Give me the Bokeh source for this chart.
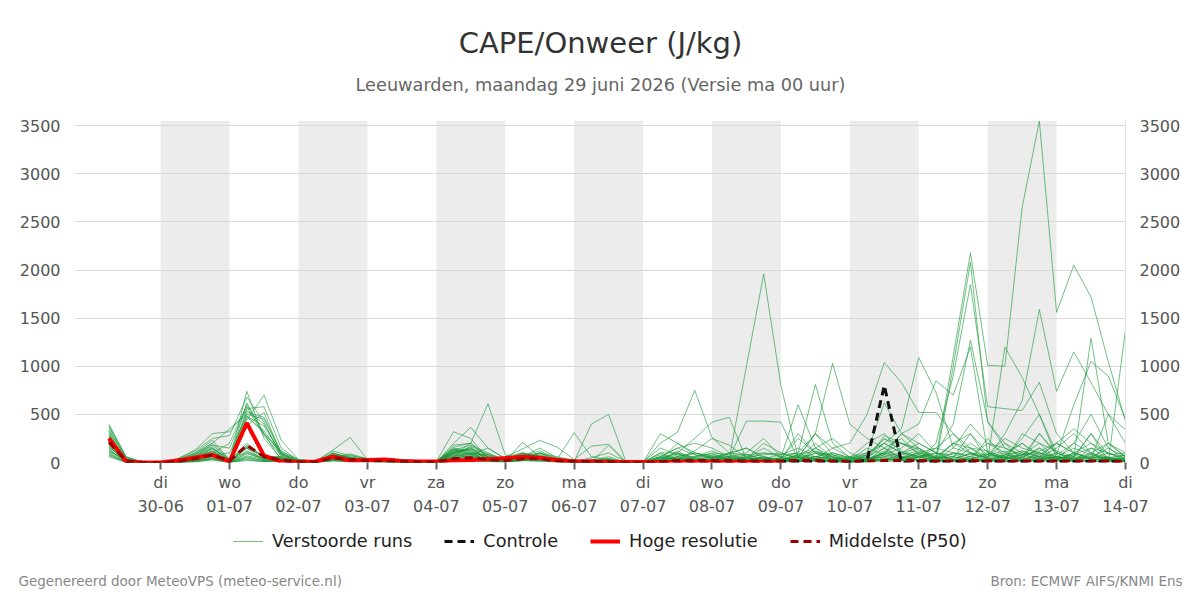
import pandas as pd
import numpy as np
from bokeh.plotting import figure
from bokeh.layouts import column
from bokeh.models import (Range1d, LinearAxis, FixedTicker, BoxAnnotation, Legend,
                          LegendItem, Label, ColumnDataSource)
from bokeh.embed import file_html
from bokeh.resources import INLINE

# ---------------- data ----------------
run_start = "2026-06-29 06:00"
n_steps = 60
step = "6h"
axis_origin = "2026-06-29 00:00"

tick_dates = ["30-06", "01-07", "02-07", "03-07", "04-07", "05-07", "06-07", "07-07",
              "08-07", "09-07", "10-07", "11-07", "12-07", "13-07", "14-07"]
tick_days = ["di", "wo", "do", "vr", "za", "zo", "ma", "di", "wo", "do", "vr", "za", "zo", "ma", "di"]
shaded_dates = ["2026-06-30", "2026-07-02", "2026-07-04", "2026-07-06", "2026-07-08",
                "2026-07-10", "2026-07-12"]
y_ticks = [0, 500, 1000, 1500, 2000, 2500, 3000, 3500]

# perturbed members: 29-06 06,12,18 | 4 per day 30-06 .. 13-07 | 14-07 00
m01 = [400,60,0, 0,10,60,150, 20,740,250,40, 5,10,60,30, 20,10,10,5, 10,150,120,40, 20,60,40,10, 5,10,20,5, 0,20,60,30, 10,5,20,40, 30,60,20,10, 20,30,60,40, 100,50,1100,2180, 1010,1000,2650,3550, 1560,2050,1720,1050, 430]
m02 = [350,30,0, 0,0,30,100, 10,560,580,150, 20,5,40,80, 30,15,5,0, 5,180,200,60, 30,40,80,20, 10,30,10,0, 5,60,150,80, 40,20,10,30, 20,80,150,30, 10,40,100,200, 150,0,1000,2080, 420,200,100,60, 30,200,100,50, 20]
m03 = [300,20,0, 0,20,80,200, 350,500,450,100, 10,5,20,40, 20,10,5,5, 10,100,160,30, 10,80,60,20, 0,10,5,0, 10,30,100,20, 10,40,30,10, 5,20,60,100, 50,30,20,60, 30,200,900,1850, 580,560,540,834, 300,100,200,50, 80]
m04 = [280,40,0, 0,5,40,90, 5,150,60,60, 0,0,100,50, 30,20,10,0, 0,120,80,150, 40,100,60,10, 20,10,0,0, 0,5,40,120, 250,180,50,20, 10,5,40,60, 0,80,250,120, 60,100,400,1270, 430,150,80,120, 200,350,200,100, 50]
m05 = [260,15,0, 0,30,100,230, 30,620,300,120, 30,10,80,40, 20,40,20,10, 5,90,140,60, 30,50,100,40, 10,0,5,10, 0,10,30,10, 40,90,150,60, 20,10,30,20, 40,20,120,60, 100,40,200,300, 30,1200,886,500, 50,10,100,200, 60]
m06 = [240,10,0, 0,0,20,60, 0,100,30,30, 0,10,130,260, 30,20,10,5, 10,60,100,20, 5,20,30,20, 10,5,180,0, 0,60,40,10, 20,10,80,100, 60,20,10,5, 0,20,150,50, 30,0,20,100, 50,300,640,1590, 740,1150,830,500, 340]
m07 = [230,25,0, 0,10,50,120, 15,380,520,80, 10,5,60,90, 40,30,10,10, 5,130,180,100, 20,30,50,30, 5,20,60,0, 10,0,20,50, 20,30,0,40, 80,100,30,10, 0,10,30,80, 120,50,60,200, 80,250,150,100, 40,60,1290,200, 100]
m08 = [220,5,0, 0,40,120,250, 280,680,420,50, 20,0,30,20, 10,40,30,10, 0,50,60,20, 10,210,60,20, 0,10,40,10, 5,150,80,30, 60,30,20,10, 30,300,100,20, 40,60,10,20, 50,20,100,60, 200,100,20,300, 80,600,1050,900, 450]
m09 = [210,30,0, 0,5,10,40, 5,60,20,20, 0,5,50,30, 20,10,0,0, 0,80,50,30, 30,40,20,10, 10,0,0,5, 0,40,100,50, 100,80,30,60, 20,50,300,80, 30,0,20,50, 80,30,10,40, 20,60,120,50, 150,300,100,0, 1380]
m10 = [200,0,0, 0,0,5,30, 0,40,10,10, 0,0,20,10, 10,20,10,5, 0,40,20,10, 10,30,20,10, 5,5,0,0, 0,10,40,20, 30,40,1000,1960, 800,50,20,10, 0,10,30,20, 60,20,150,400, 200,150,60,300, 100,50,30,200, 60]
m11 = [190,20,0, 0,25,60,110, 20,200,50,30, 5,0,40,20, 20,10,10,5, 10,110,130,40, 20,60,40,10, 10,30,20,5, 0,200,315,750, 260,100,30,20, 10,60,40,20, 10,40,200,100, 150,40,20,60, 10,80,200,50, 30,100,40,500, 200]
m12 = [180,10,0, 0,15,40,80, 40,480,380,90, 10,5,70,40, 30,20,20,10, 10,160,200,50, 60,100,40,20, 10,50,100,10, 0,100,100,250, 420,470,30,10, 50,20,150,250, 100,30,60,100, 200,100,30,20, 250,50,20,100, 60,20,150,100, 30]
m13 = [170,0,0, 0,10,30,70, 0,90,40,40, 5,0,30,20, 10,10,5,0, 5,70,100,20, 10,20,30,5, 0,5,10,0, 5,50,30,60, 120,50,430,430, 420,30,100,60, 10,20,80,300, 150,50,30,10, 20,5,40,30, 10,50,300,20, 10]
m14 = [160,15,0, 0,20,90,180, 150,580,280,70, 20,10,90,60, 20,30,20,10, 0,60,170,80, 20,50,100,30, 20,10,0,10, 0,30,60,100, 50,60,100,250, 60,100,810,200, 50,20,100,300, 200,100,20,150, 30,80,50,150, 20,40,60,30, 20]
m15 = [150,40,0, 0,5,20,60, 10,120,40,20, 0,0,60,30, 10,10,0,0, 0,40,60,30, 10,30,50,40, 30,10,0,0, 10,20,50,20, 40,100,80,30, 50,100,300,1030, 400,250,150,40, 100,150,300,100, 20,50,80,200, 40,80,150,40, 20]
m16 = [140,0,0, 0,30,100,200, 30,520,470,110, 30,15,120,70, 40,20,10,5, 10,140,110,60, 40,80,50,20, 10,5,20,0, 0,100,30,20, 10,30,60,80, 100,50,40,150, 200,500,1040,830, 520,520,300,150, 60,100,200,80, 200,100,50,150, 60]
m17 = [130,10,0, 0,0,15,50, 0,70,30,40, 0,5,50,20, 10,20,10,0, 0,30,40,20, 10,20,40,10, 0,20,10,0, 5,10,20,40, 30,50,80,40, 30,50,300,150, 60,100,200,350, 1090,730,150,100, 80,50,250,500, 100,40,20,50, 30]
m18 = [120,20,0, 0,10,70,140, 20,180,60,60, 10,0,40,20, 20,10,10,5, 10,100,80,30, 20,40,30,20, 10,20,30,0, 0,50,20,30, 60,20,40,150, 50,600,150,60, 30,100,620,300, 400,850,700,1200, 100,50,20,40, 60,30,80,40, 10]
m19 = [110,30,0, 0,5,30,80, 10,150,20,30, 0,0,30,10, 10,0,5,5, 20,80,200,610, 80,30,60,20, 10,5,20,0, 0,10,60,30, 20,10,50,30, 10,40,200,50, 20,30,100,60, 50,100,60,30, 100,30,80,40, 100,20,60,30, 40]
m20 = [100,0,0, 0,10,50,100, 200,600,300,20, 10,10,60,40, 20,30,10,0, 10,320,250,40, 30,20,100,60, 20,10,30,0, 0,20,80,60, 90,40,20,10, 30,80,60,20, 40,30,280,200, 100,60,200,150, 120,50,80,100, 30,10,20,10, 20]
m21 = [90,10,0, 0,20,60,120, 10,170,50,50, 5,0,40,30, 10,20,10,5, 0,200,365,150, 40,50,30,20, 10,0,10,0, 0,300,200,80, 60,40,20,20, 40,20,100,80, 10,40,30,20, 80,40,100,80, 60,200,30,80, 20,100,40,60, 10]
m22 = [80,5,0, 0,0,40,90, 0,50,20,20, 0,5,20,10, 20,10,0,0, 5,50,70,40, 20,30,60,40, 10,400,500,10, 0,30,120,30, 20,10,30,50, 20,10,30,80, 50,200,300,100, 60,20,50,300, 100,40,60,40, 60,80,30,30, 80]
m23 = [70,0,0, 0,40,130,300, 320,540,400,90, 20,10,80,50, 30,20,20,10, 10,110,90,50, 20,80,90,30, 310,60,30,0, 10,80,40,20, 30,20,10,60, 30,20,60,100, 50,80,240,200, 130,70,40,90, 50,80,120,60, 200,100,40,20, 50]
m24 = [60,0,0, 0,5,20,40, 5,30,10,20, 10,0,100,40, 20,10,5,5, 10,90,60,20, 60,140,230,160, 30,170,190,10, 0,30,200,100, 50,100,150,40, 40,250,100,30, 20,30,100,40, 20,60,30,40, 20,30,50,150, 50,40,100,30, 20]
m25 = [330,50,0, 0,0,30,150, 25,470,330,80, 10,5,70,50, 30,20,10,10, 10,130,100,70, 30,90,70,20, 20,20,10,0, 0,10,30,100, 70,30,20,10, 20,70,40,30, 60,30,80,150, 300,100,80,40, 80,120,30,60, 80,200,500,150, 30]
m26 = [290,20,0, 0,15,60,90, 10,160,60,30, 5,10,50,30, 20,10,10,0, 0,60,80,30, 20,40,30,10, 10,0,30,0, 5,60,150,200, 150,60,30,100, 80,150,60,40, 30,150,80,40, 60,30,200,100, 40,20,300,200, 120,60,300,80, 100]
m27 = [370,40,0, 0,20,80,160, 15,110,40,40, 10,0,60,20, 10,10,5,0, 0,100,150,30, 10,60,150,50, 20,20,0,0, 0,10,20,30, 40,20,60,20, 10,30,120,60, 20,10,40,30, 30,20,10,30, 40,20,10,30, 60,30,20,40, 10]
m28 = [320,10,0, 0,5,30,80, 100,490,300,100, 20,0,90,50, 10,30,10,5, 10,140,90,80, 20,100,50,20, 10,20,0,0, 0,10,30,20, 30,60,40,200, 100,30,60,40, 10,60,150,250, 80,40,60,20, 30,40,100,20, 40,60,40,100, 20]
m29 = [270,30,0, 0,0,10,30, 0,20,10,10, 0,0,20,10, 5,5,0,0, 0,20,30,10, 5,20,10,5, 0,0,0,0, 0,5,10,5, 10,5,20,10, 5,10,20,10, 5,10,50,20, 30,10,20,10, 20,10,20,10, 30,20,10,10, 5]
m30 = [380,60,0, 0,10,70,180, 30,440,700,230, 30,10,70,40, 20,20,10,5, 5,120,140,90, 30,70,120,40, 10,20,40,0, 0,50,90,40, 80,50,30,20, 30,80,120,40, 20,80,200,100, 50,150,100,60, 40,60,30,20, 60,150,80,40, 40]

controle = [250,10,0, 0,20,50,80, 10,400,70,10, 5,10,60,20, 25,30,15,10, 10,20,25,35, 45,55,50,25, 10,10,5,5, 0,5,10,10, 10,10,10,10, 10,10,10,10, 5,20,800,0, 10,10,10,10, 10,10,10,10, 10,10,10,10, 10]
hoge_resolutie = [250,10,0, 0,20,50,80, 10,410,70,10, 5,10,60,20, 25,30,15,10, 10,20,25,35, 45,60,50,25, 10,10,5,5, 5,5,5,5, 5,5,5,5, 5]
middelste = [210,15,0, 0,10,40,80, 15,180,60,30, 5,5,50,30, 20,15,10,5, 5,40,50,30, 20,40,40,15, 10,10,10,0, 0,10,20,20, 20,20,15,15, 15,20,20,15, 10,15,20,20, 20,15,15,20, 15,15,15,15, 15,15,15,15, 10]

members = [m01, m02, m03, m04, m05, m06, m07, m08, m09, m10, m11, m12, m13, m14, m15,
           m16, m17, m18, m19, m20, m21, m22, m23, m24, m25, m26, m27, m28, m29, m30]

title_text = "CAPE/Onweer (J/kg)"
subtitle_text = "Leeuwarden, maandag 29 juni 2026 (Versie ma 00 uur)"
footer_left = "Gegenereerd door MeteoVPS (meteo-service.nl)"
footer_right = "Bron: ECMWF AIFS/KNMI Ens"

# ---------------- derived x (hours since 29-06 00:00) ----------------
t0 = pd.Timestamp(axis_origin)
times = pd.date_range(run_start, periods=n_steps, freq=step)
hours = ((times - t0) / pd.Timedelta(hours=1)).to_numpy()

tick_hours = [24 * (k + 1) for k in range(len(tick_dates))]
overrides = {h: f"{d}\n{dt}" for h, d, dt in zip(tick_hours, tick_days, tick_dates)}

MEMBER_COLOR = "#1a9a3a"


def no_frame_align(fig):
    if "frame_align" in fig.properties():
        fig.frame_align = False


# ---------------- top strip: title + subtitle ----------------
p_top = figure(width=1200, height=110, output_backend="svg", toolbar_location=None,
               x_range=Range1d(0, 1200), y_range=Range1d(0, 110),
               x_axis_location=None, y_axis_location=None, min_border=0)
p_top.grid.visible = False
p_top.outline_line_color = None
no_frame_align(p_top)
p_top.add_layout(Label(x=600, y=68, text=title_text, text_align="center", text_baseline="middle",
                       text_font="DejaVu Sans", text_font_size="29px", text_color="#333333"))
p_top.add_layout(Label(x=600, y=26, text=subtitle_text, text_align="center", text_baseline="middle",
                       text_font="DejaVu Sans", text_font_size="17.7px", text_color="#666666"))

# ---------------- main chart ----------------
p = figure(width=1200, height=410, output_backend="svg", toolbar_location=None,
           x_range=Range1d(-6, 360), y_range=Range1d(0, 3555),
           min_border_left=74, min_border_right=75, min_border_top=10, min_border_bottom=58)
p.outline_line_color = None
p.background_fill_color = "white"
p.border_fill_color = "white"
no_frame_align(p)

for d in shaded_dates:
    h = (pd.Timestamp(d) - t0) / pd.Timedelta(hours=1)
    p.add_layout(BoxAnnotation(left=h, right=h + 24, fill_color="#ececec", fill_alpha=1.0,
                               line_color=None, level="image"))

p.xgrid.visible = False
p.ygrid.grid_line_color = "#d9d9d9"
p.ygrid.grid_line_width = 1
p.ygrid.ticker = FixedTicker(ticks=y_ticks)

xa = p.xaxis[0]
xa.ticker = FixedTicker(ticks=tick_hours)
xa.major_label_overrides = overrides
xa.axis_line_color = None
xa.major_tick_line_color = "#666666"
xa.major_tick_line_width = 2
xa.major_tick_in = 0
xa.major_tick_out = 7
xa.minor_tick_line_color = None
xa.major_label_text_font = "DejaVu Sans"
xa.major_label_text_font_size = "16px"
xa.major_label_text_color = "#555555"
xa.major_label_standoff = 3
xa.major_label_text_line_height = 1.3

ya = p.yaxis[0]
ya.ticker = FixedTicker(ticks=y_ticks)
ya.axis_line_color = None
ya.major_tick_line_color = None
ya.minor_tick_line_color = None
ya.major_label_text_font = "DejaVu Sans"
ya.major_label_text_font_size = "16px"
ya.major_label_text_color = "#555555"
ya.major_label_standoff = 8

yr = LinearAxis(ticker=FixedTicker(ticks=y_ticks))
yr.axis_line_color = "#e3e3e3"
yr.major_tick_line_color = None
yr.minor_tick_line_color = None
yr.major_label_text_font = "DejaVu Sans"
yr.major_label_text_font_size = "16px"
yr.major_label_text_color = "#555555"
yr.major_label_standoff = 8
p.add_layout(yr, "right")

src = ColumnDataSource(dict(xs=[hours] * len(members), ys=[np.array(m) for m in members]))
p.multi_line("xs", "ys", source=src, line_color=MEMBER_COLOR, line_alpha=0.62, line_width=1)
p.line(hours, controle, line_color="#111111", line_width=3, line_dash="8 5")
p.line(hours[:len(hoge_resolutie)], hoge_resolutie, line_color="#ff0000", line_width=4)
p.line(hours, middelste, line_color="#9b0000", line_width=3, line_dash="8 5")

# ---------------- bottom strip: legend + footer ----------------
p_bot = figure(width=1200, height=80, output_backend="svg", toolbar_location=None,
               x_range=Range1d(0, 1200), y_range=Range1d(0, 80),
               x_axis_location=None, y_axis_location=None, min_border=0)
p_bot.grid.visible = False
p_bot.outline_line_color = None
no_frame_align(p_bot)

nan_pt = [float("nan")]
lg_members = p_bot.line(nan_pt, nan_pt, line_color=MEMBER_COLOR, line_alpha=0.62, line_width=1)
lg_ctrl = p_bot.line(nan_pt, nan_pt, line_color="#111111", line_width=3, line_dash="8 5")
lg_hres = p_bot.line(nan_pt, nan_pt, line_color="#ff0000", line_width=4)
lg_med = p_bot.line(nan_pt, nan_pt, line_color="#9b0000", line_width=3, line_dash="8 5")

legend = Legend(items=[LegendItem(label="Verstoorde runs", renderers=[lg_members]),
                       LegendItem(label="Controle", renderers=[lg_ctrl]),
                       LegendItem(label="Hoge resolutie", renderers=[lg_hres]),
                       LegendItem(label="Middelste (P50)", renderers=[lg_med])],
                orientation="horizontal", location=(233, 49),
                border_line_color=None, background_fill_alpha=0,
                label_text_font="DejaVu Sans", label_text_font_size="17.7px",
                label_text_color="#222222", glyph_width=30, glyph_height=18,
                spacing=32, label_standoff=9, padding=6, margin=0)
p_bot.add_layout(legend)

p_bot.add_layout(Label(x=18, y=20, text=footer_left, text_align="left", text_baseline="middle",
                       text_font="DejaVu Sans", text_font_size="13.5px", text_color="#888888"))
p_bot.add_layout(Label(x=1182, y=20, text=footer_right, text_align="right", text_baseline="middle",
                       text_font="DejaVu Sans", text_font_size="13.5px", text_color="#888888"))

layout = column(p_top, p, p_bot, spacing=0)
open("out.html", "w").write(file_html(layout, INLINE))
